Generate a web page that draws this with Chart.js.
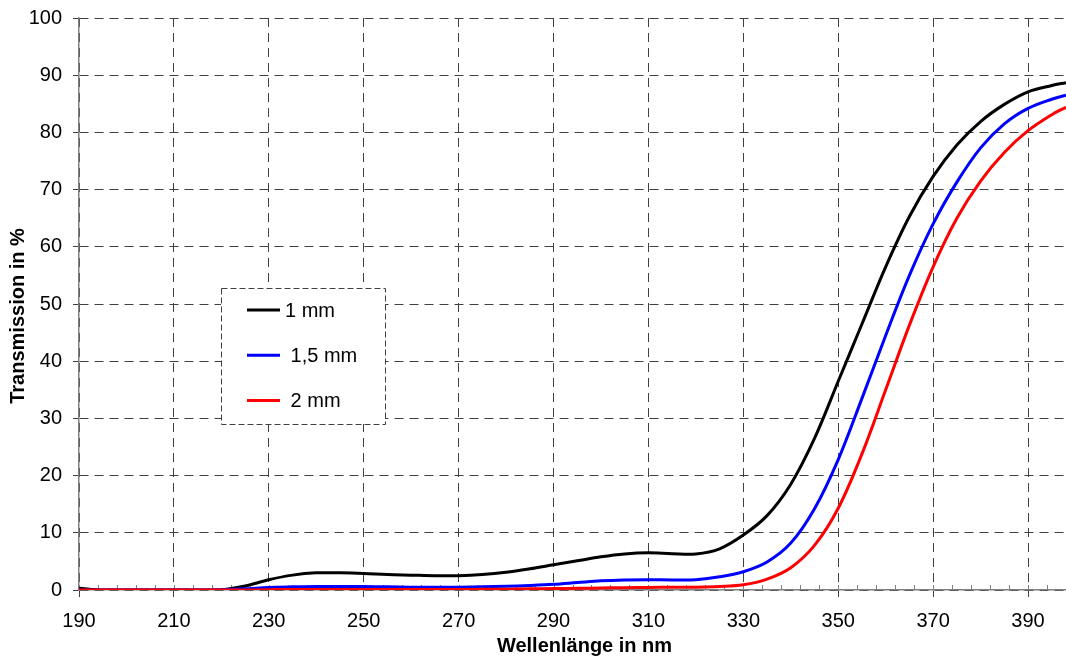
<!DOCTYPE html>
<html>
<head>
<meta charset="utf-8">
<script src="https://cdn.jsdelivr.net/npm/chart.js@4.4.1/dist/chart.umd.min.js"></script>
<style>
  html, body { margin: 0; padding: 0; background: #fff; }
  #wrap { width: 1066px; height: 659px; }
</style>
</head>
<body>
<div id="wrap"><canvas id="chart" width="1066" height="659"></canvas></div>
<script>
// Wavelength grid (nm) the curves were read at.
const wavelengths = [190, 195, 200, 205, 210, 215, 220, 225, 230, 235, 240, 245, 250, 255, 260, 265, 270, 275, 280, 285,
  290, 295, 300, 305, 310, 315, 320, 325, 330, 335, 340, 345, 350, 355, 360, 365, 370, 375, 380, 385, 390, 395, 398];

// Transmission in % for each thickness.
const trans1mm = [0.3, 0, 0, 0, 0, 0, 0.05, 0.7, 1.8, 2.6, 3.0, 3.0, 2.9, 2.7, 2.6, 2.5, 2.5, 2.7, 3.1, 3.7,
  4.4, 5.1, 5.8, 6.3, 6.5, 6.35, 6.3, 7.2, 9.6, 13.0, 18.5, 26.5, 36.5, 46.5, 56.5, 65.3, 72.3, 77.8, 81.9, 84.9, 87.1, 88.2, 88.7];
const trans15mm = [0, 0, 0, 0, 0, 0, 0.05, 0.2, 0.45, 0.55, 0.6, 0.6, 0.6, 0.55, 0.5, 0.5, 0.5, 0.55, 0.65, 0.8,
  1.0, 1.3, 1.6, 1.75, 1.8, 1.75, 1.8, 2.3, 3.2, 4.9, 8.2, 14.2, 22.8, 33.5, 44.5, 55.0, 64.0, 71.3, 77.3, 81.5, 84.2, 85.8, 86.5];
const trans2mm = [0, 0, 0, 0, 0, 0, 0, 0, 0.05, 0.1, 0.1, 0.1, 0.1, 0.1, 0.1, 0.1, 0.1, 0.12, 0.15, 0.2,
  0.25, 0.3, 0.35, 0.4, 0.45, 0.5, 0.5, 0.6, 0.9, 1.9, 3.9, 7.8, 14.3, 23.8, 35.0, 46.3, 56.5, 65.0, 71.5, 76.5, 80.3, 83.1, 84.4];

const seriesLabels = ["1 mm", " 1,5 mm", " 2 mm"];
const seriesColors = ["#000000", "#0000ff", "#ff0000"];

const xTicks = [190, 210, 230, 250, 270, 290, 310, 330, 350, 370, 390];
const yTicks = [0, 10, 20, 30, 40, 50, 60, 70, 80, 90, 100];

const FONT = "'Liberation Sans', Arial, sans-serif";
const GRID = "#404040";
const AXIS = "#808080";

function points(values) {
  return wavelengths.map((w, i) => ({ x: w, y: values[i] }));
}

// small 4 nm ticks on the x axis, pointing into the plot
const minorTicks = {
  id: "minorTicks",
  beforeDatasetsDraw(chart) {
    const { ctx, chartArea, scales: { x } } = chart;
    ctx.save();
    ctx.strokeStyle = AXIS;
    ctx.lineWidth = 1;
    for (let v = x.min; v <= x.max; v += 4) {
      const px = Math.round(x.getPixelForValue(v)) + 0.5;
      ctx.beginPath();
      ctx.moveTo(px, chartArea.bottom - 5);
      ctx.lineTo(px, chartArea.bottom);
      ctx.stroke();
    }
    ctx.restore();
  }
};

const axisTitles = {
  id: "axisTitles",
  afterDraw(chart) {
    const { ctx, chartArea } = chart;
    ctx.save();
    ctx.fillStyle = "#000";
    ctx.font = "bold 20px " + FONT;
    ctx.textAlign = "center";
    ctx.textBaseline = "middle";
    ctx.fillText("Wellenlänge in nm", (chartArea.left + chartArea.right) / 2 + 12, chartArea.bottom + 56);
    ctx.translate(18, (chartArea.top + chartArea.bottom) / 2 + 12);
    ctx.rotate(-Math.PI / 2);
    ctx.fillText("Transmission in %", 0, 0);
    ctx.restore();
  }
};

const boxLegend = {
  id: "boxLegend",
  afterDraw(chart) {
    const { ctx, chartArea } = chart;
    const left = chartArea.left + 142;
    const top = chartArea.top + 270;
    ctx.save();
    ctx.fillStyle = "#fff";
    ctx.fillRect(left, top, 164, 136);
    ctx.strokeStyle = GRID;
    ctx.lineWidth = 1;
    ctx.setLineDash([6, 3]);
    ctx.strokeRect(left + 0.5, top + 0.5, 164, 136);
    ctx.setLineDash([]);
    ctx.font = "20px " + FONT;
    ctx.textBaseline = "middle";
    ctx.textAlign = "left";
    seriesLabels.forEach((label, i) => {
      const y = top + 22 + i * 45.3;
      ctx.strokeStyle = seriesColors[i];
      ctx.lineWidth = 3;
      ctx.beginPath();
      ctx.moveTo(left + 26, y);
      ctx.lineTo(left + 59, y);
      ctx.stroke();
      ctx.fillStyle = "#000";
      ctx.fillText(label, left + 64, y + 1);
    });
    ctx.restore();
  }
};

const data = [trans1mm, trans15mm, trans2mm];

new Chart(document.getElementById("chart"), {
  type: "line",
  data: {
    datasets: data.map((vals, i) => ({
      label: seriesLabels[i].trim(),
      data: points(vals),
      borderColor: seriesColors[i],
      borderWidth: 3,
      pointRadius: 0,
      tension: 0.35,
      fill: false,
      order: 3 - i
    }))
  },
  options: {
    responsive: false,
    animation: false,
    devicePixelRatio: 1,
    layout: { padding: { top: 18, right: 0, bottom: 0, left: 0 } },
    plugins: { legend: { display: false }, tooltip: { enabled: false } },
    scales: {
      x: {
        type: "linear",
        min: 190,
        max: 398,
        afterBuildTicks: (s) => { s.ticks = xTicks.map((v) => ({ value: v })); },
        afterFit: (s) => { s.height = 69; s.paddingLeft = 0; s.paddingRight = 0; },
        ticks: { color: "#000", font: { family: FONT, size: 20 }, padding: 12, maxRotation: 0, autoSkip: false },
        grid: { color: GRID, lineWidth: 1, tickLength: 7, tickColor: GRID },
        border: { display: true, color: AXIS, width: 1.5, dash: [9, 6] }
      },
      y: {
        min: 0,
        max: 100,
        afterBuildTicks: (s) => { s.ticks = yTicks.map((v) => ({ value: v })); },
        afterFit: (s) => { s.width = 79; s.paddingTop = 0; s.paddingBottom = 0; },
        ticks: { color: "#000", font: { family: FONT, size: 20 }, padding: 11 },
        grid: { color: GRID, lineWidth: 1, tickLength: 6, tickColor: GRID },
        border: { display: true, color: AXIS, width: 1.5, dash: [9, 6] }
      }
    }
  },
  plugins: [minorTicks, axisTitles, boxLegend]
});
</script>
</body>
</html>
